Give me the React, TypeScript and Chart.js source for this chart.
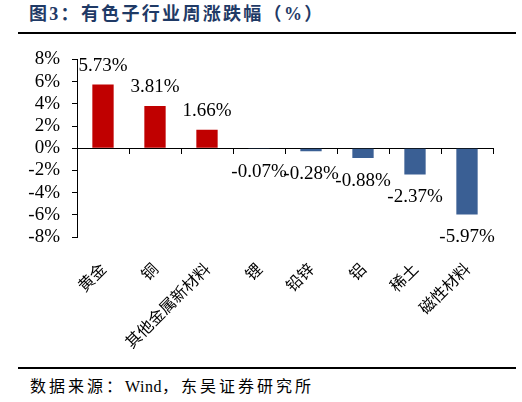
import React, { useEffect, useRef } from "react";
import { Chart, registerables } from "chart.js";

Chart.register(...registerables);

const categories = ["黄金", "铜", "其他金属新材料", "锂", "铅锌", "铝", "稀土", "磁性材料"];
const weeklyChange = [5.73, 3.81, 1.66, -0.07, -0.28, -0.88, -2.37, -5.97];
const yTicks = [-8, -6, -4, -2, 0, 2, 4, 6, 8];

const RED = "#C00000";
const BLUE = "#3A5F94";
const SERIF = "'Liberation Serif', 'Times New Roman', 'Noto Sans CJK SC', serif";
const CJK = "'Noto Sans CJK SC', sans-serif";

const valueLabels = {
  id: "valueLabels",
  afterDatasetsDraw(chart: any) {
    const { ctx } = chart;
    const meta = chart.getDatasetMeta(0);
    ctx.save();
    ctx.font = `19px ${SERIF}`;
    ctx.fillStyle = "#000";
    ctx.textAlign = "center";
    ctx.textBaseline = "middle";
    meta.data.forEach((bar: any, i: number) => {
      const v = weeklyChange[i];
      const y = v >= 0 ? bar.y - 19 : bar.y + 23;
      ctx.fillText(v.toFixed(2) + "%", bar.x, y);
    });
    ctx.restore();
  },
};

export default function App() {
  const ref = useRef<HTMLCanvasElement | null>(null);

  useEffect(() => {
    if (!ref.current) return;
    const chart = new Chart(ref.current, {
      type: "bar",
      data: {
        labels: categories,
        datasets: [
          {
            data: weeklyChange,
            backgroundColor: weeklyChange.map((v) => (v >= 0 ? RED : BLUE)),
            barPercentage: 0.41,
            categoryPercentage: 1,
            xAxisID: "x",
            yAxisID: "y",
          },
        ],
      },
      options: {
        responsive: false,
        animation: false,
        layout: { padding: { top: 13, right: 29, left: 0, bottom: 0 } },
        plugins: {
          legend: { display: false },
          tooltip: { enabled: false },
          title: { display: false },
        },
        scales: {
          x: {
            type: "category",
            position: "bottom",
            offset: true,
            grid: { display: false },
            border: { display: false },
            ticks: {
              autoSkip: false,
              minRotation: 45,
              maxRotation: 45,
              padding: 14,
              color: "#000",
              font: { family: CJK, size: 16 },
            },
            afterFit: (s: any) => {
              s.height = 123;
            },
          },
          x0: {
            type: "category",
            axis: "x",
            position: { y: 0 },
            offset: true,
            z: 1,
            grid: {
              offset: true,
              drawOnChartArea: false,
              drawTicks: true,
              tickLength: 5,
              color: "#000",
              lineWidth: 1,
            },
            border: { display: true, color: "#000", width: 1 },
            ticks: { display: false },
          },
          y: {
            min: -8,
            max: 8,
            afterBuildTicks: (s: any) => {
              s.ticks = yTicks.map((v) => ({ value: v }));
            },
            ticks: {
              autoSkip: false,
              stepSize: 2,
              callback: (v: any) => `${v}%`,
              color: "#000",
              padding: 12,
              font: { family: SERIF, size: 19 },
            },
            grid: {
              drawOnChartArea: false,
              drawTicks: true,
              tickLength: 5,
              color: "#000",
            },
            border: { display: true, color: "#000", width: 1 },
            afterFit: (s: any) => {
              s.width = 77;
            },
          },
        },
      } as any,
      plugins: [valueLabels],
    });
    return () => chart.destroy();
  }, []);

  return (
    <div style={{ position: "absolute", left: 0, top: 0, width: 522, height: 402, background: "#fff" }}>
      <div
        style={{
          position: "absolute",
          left: 29,
          top: 3,
          fontFamily: SERIF,
          fontWeight: 700,
          fontSize: 18,
          letterSpacing: 2.3,
          color: "#1F3A66",
          lineHeight: "22px",
          whiteSpace: "nowrap",
        }}
      >
        图3：有色子行业周涨跌幅（%）
      </div>
      <div style={{ position: "absolute", left: 18, top: 32, width: 498, height: 2, background: "#000" }} />
      <div style={{ position: "absolute", left: 0, top: 36, width: 522, height: 324 }}>
        <canvas ref={ref} width={522} height={324} style={{ width: 522, height: 324, display: "block" }} />
      </div>
      <div style={{ position: "absolute", left: 18, top: 367, width: 498, height: 2, background: "#000" }} />
      <div
        style={{
          position: "absolute",
          left: 30,
          top: 376,
          fontFamily: SERIF,
          fontSize: 16,
          letterSpacing: 3,
          color: "#000",
          lineHeight: "22px",
          whiteSpace: "nowrap",
        }}
      >
        数据来源：<span style={{ letterSpacing: 0.5 }}>Wind</span>，东吴证券研究所
      </div>
    </div>
  );
}
